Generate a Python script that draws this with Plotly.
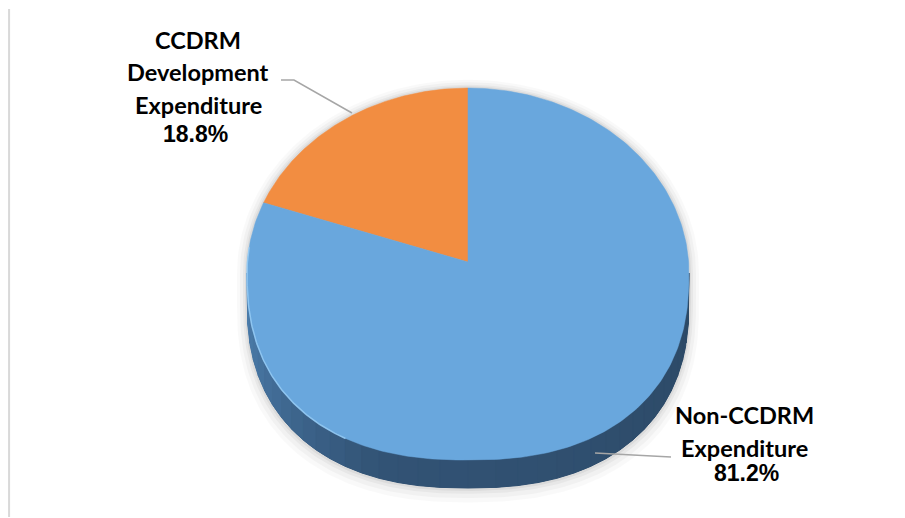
import numpy as np
import plotly.graph_objects as go

# ---------------- data ----------------
categories = ["CCDRM Development Expenditure", "Non-CCDRM Expenditure"]
values = [18.8, 81.2]
label_lines = [["CCDRM", "Development", "Expenditure"], ["Non-CCDRM", "Expenditure"]]

# ---------------- style / layout constants ----------------
PAGE_OFF = 8               # default body margin of the html page
W, H = 905, 518
CX, CY = 468, 273          # centre of top-face outline (page pixels)
RX, RY_TOP, RY_BOT = 221, 185, 187
APEX_Y = 262               # perspective centre of the pie
DEPTH = 28                 # thickness of the 3-D side
N_BOT = 2.35               # fuller lower half (perspective)
slice_colors = ["#F28D41", "#69A7DD"]
text_color = "#000000"
cat_font = "Lato, 'Open Sans', sans-serif"
pct_font = "'Liberation Sans', Arial, sans-serif"
label_pos = [
    {"x": 198, "lines_y": [40, 72, 105], "pct_x": 195, "pct_y": 134},
    {"x": 744, "lines_y": [415, 448], "pct_x": 746, "pct_y": 473},
]
leaders = [
    [(281, 80), (294, 80), (352, 113)],
    [(595, 453), (671, 457)],
]


def rim(t_deg, dy=0.0, scale=1.0):
    r = np.radians(np.asarray(t_deg, dtype=float))
    c, s = np.cos(r), np.sin(r)
    n = np.where(s < 0, N_BOT, 2.0)
    ry = np.where(s < 0, RY_BOT, RY_TOP)
    x = CX + scale * RX * np.sign(c) * np.abs(c) ** (2 / n)
    y = CY - scale * ry * np.sign(s) * np.abs(s) ** (2 / n) + dy
    return x, y


fig = go.Figure()


def poly(x, y, fill, line_color=None, lw=0):
    fig.add_trace(go.Scatter(
        x=list(x) + [x[0]], y=list(y) + [y[0]], mode="lines",
        fill="toself", fillcolor=fill,
        line=dict(color=line_color or fill, width=lw),
        hoverinfo="skip", showlegend=False))


# ---- soft shadow ----
for k, a in [(10, 0.025), (7, 0.03), (4, 0.04), (2, 0.05)]:
    sc = 1 + k / RX
    tt = np.linspace(0, 180, 120)
    xt, yt = rim(tt, 0, sc)
    tb = np.linspace(180, 360, 160)
    xb, yb = rim(tb, DEPTH + k * 0.6, sc)
    poly(np.r_[xt, xb], np.r_[yt, yb], f"rgba(0,0,0,{a})")

# ---- side of the pie (visible lower half) ----
tb = np.linspace(180, 360, 240)
xt, yt = rim(tb)
xs, ys = rim(tb, DEPTH)
poly(np.r_[xt, xs[::-1]], np.r_[yt, ys[::-1]], "#2D4A67")

c_left = np.array([78, 128, 176])
c_mid = np.array([50, 83, 117])
c_right = np.array([44, 73, 102])
edges = np.linspace(180, 360, 37)
for a0, a1 in zip(edges[:-1], edges[1:]):
    m = (a0 + a1) / 2
    if m < 250:
        f = (m - 180) / 70
        col = c_left * (1 - f) + c_mid * f
    else:
        f = (m - 250) / 110
        col = c_mid * (1 - f) + c_right * f
    col = "rgb(%d,%d,%d)" % tuple(col.round().astype(int))
    seg = np.linspace(a0, a1, 8)
    x1, y1 = rim(seg)
    x2, y2 = rim(seg, DEPTH)
    poly(np.r_[x1, x2[::-1]], np.r_[y1, y2[::-1]], col, col, 1)

# ---- top face slices, driven by values ----
total = sum(values)
start = 90.0
for v, col in zip(values, slice_colors):
    sweep = 360.0 * v / total
    tt = np.linspace(start, start + sweep, 300)
    x, y = rim(tt)
    poly(np.r_[CX, x], np.r_[APEX_Y, y], col, col, 0.5)
    start += sweep

# highlight along the lower-left rim
th = np.linspace(172, 240, 100)
xh, yh = rim(th)
fig.add_trace(go.Scatter(x=xh, y=yh, mode="lines",
                         line=dict(color="rgba(150,204,246,0.85)", width=1.5),
                         hoverinfo="skip", showlegend=False))

# ---- leader lines ----
for pts in leaders:
    fig.add_trace(go.Scatter(x=[p[0] for p in pts], y=[p[1] for p in pts], mode="lines",
                             line=dict(color="#A6A6A6", width=1.5),
                             hoverinfo="skip", showlegend=False))

# ---- labels ----
annotations = []
for i, (lines, pos) in enumerate(zip(label_lines, label_pos)):
    for txt, yy in zip(lines, pos["lines_y"]):
        annotations.append(dict(x=pos["x"], y=yy, xref="x", yref="y", text="<b>%s</b>" % txt,
                                showarrow=False, xanchor="center", yanchor="middle",
                                font=dict(family=cat_font, size=23.5, color=text_color)))
    pct = values[i] / total * 100
    annotations.append(dict(x=pos["pct_x"], y=pos["pct_y"], xref="x", yref="y",
                            text="<b>%.1f%%</b>" % pct, showarrow=False,
                            xanchor="center", yanchor="middle",
                            font=dict(family=pct_font, size=23, color=text_color)))

fig.update_layout(
    width=W - PAGE_OFF, height=H - PAGE_OFF, autosize=False,
    margin=dict(l=0, r=0, t=0, b=0),
    paper_bgcolor="white", plot_bgcolor="white",
    xaxis=dict(range=[PAGE_OFF, W], visible=False, fixedrange=True),
    yaxis=dict(range=[H, PAGE_OFF], visible=False, fixedrange=True),
    annotations=annotations,
    shapes=[dict(type="line", xref="paper", yref="y", x0=0.0012, x1=0.0012, y0=9, y1=517,
                 line=dict(color="#D9D9D9", width=2))],
    showlegend=False,
)

fig.write_html("out.html")
